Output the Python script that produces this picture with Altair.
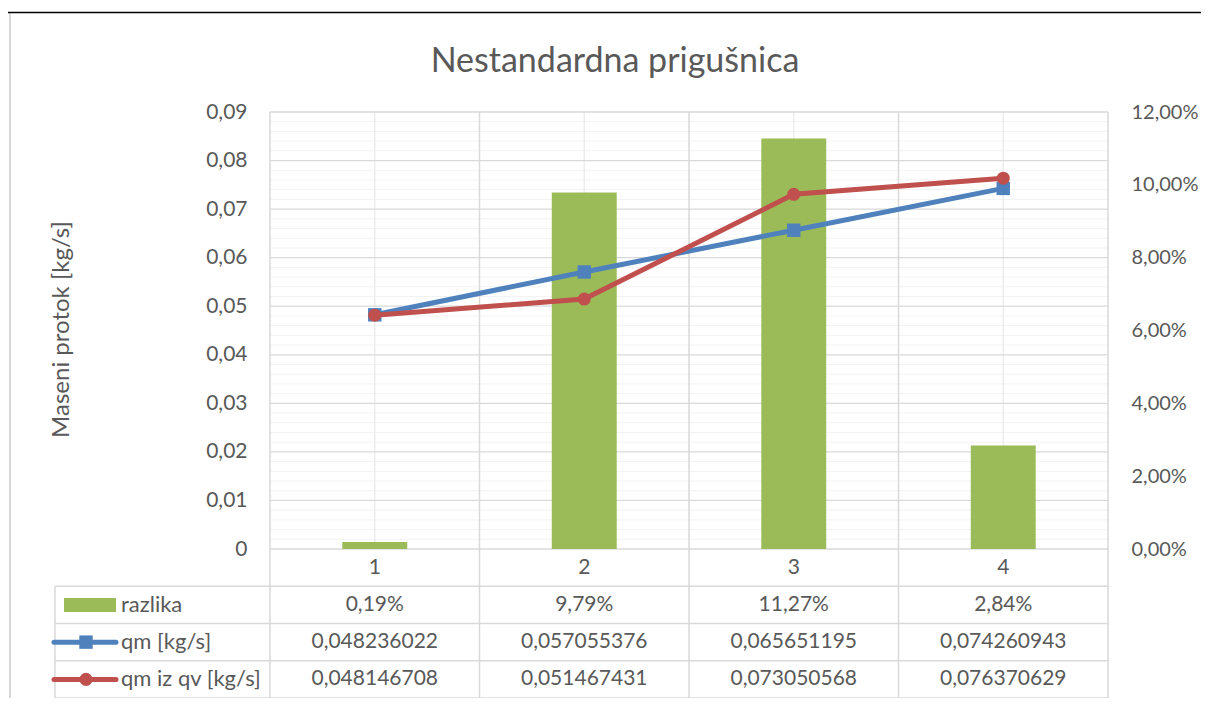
import altair as alt
import pandas as pd

# ---------------- data ----------------
categories = ["1", "2", "3", "4"]
razlika_pct = [0.19, 9.79, 11.27, 2.84]
qm = [0.048236022, 0.057055376, 0.065651195, 0.074260943]
qm_iz_qv = [0.048146708, 0.051467431, 0.073050568, 0.076370629]

series_keys = ["razlika", "qm", "qmqv"]
series_names = ["razlika", "qm [kg/s]", "qm iz qv [kg/s]"]

left_ticks = [0, 0.01, 0.02, 0.03, 0.04, 0.05, 0.06, 0.07, 0.08, 0.09]
minor_ticks = [0.002, 0.004, 0.006, 0.008, 0.012, 0.014, 0.016, 0.018,
               0.022, 0.024, 0.026, 0.028, 0.032, 0.034, 0.036, 0.038,
               0.042, 0.044, 0.046, 0.048, 0.052, 0.054, 0.056, 0.058,
               0.062, 0.064, 0.066, 0.068, 0.072, 0.074, 0.076, 0.078,
               0.082, 0.084, 0.086, 0.088]
right_ticks = [0, 0.02, 0.04, 0.06, 0.08, 0.10, 0.12]
table_rows = ["cat", "razlika", "qm", "qmqv"]

title_text = "Nestandardna prigušnica"
y_title = "Maseni protok [kg/s]"

# ---------------- style ----------------
GREEN = "#9BBB59"
BLUE = "#4F81BD"
RED = "#C0504D"
TXT = "#595959"
GRID = "#D9D9D9"
MINOR = "#F2F2F2"
FONT = "Lato"
W, H = 838, 437
TABLE_H = 149

df = pd.DataFrame({
    "cat": categories,
    "razlika": [v / 100 for v in razlika_pct],
    "qm": qm,
    "qmqv": qm_iz_qv,
})

cells = []
for i, c in enumerate(categories):
    cells.append({"cat": c, "row": "cat", "label": c})
    cells.append({"cat": c, "row": "razlika", "label": f"{razlika_pct[i]:.2f}%".replace(".", ",")})
    cells.append({"cat": c, "row": "qm", "label": f"{qm[i]:.9f}".replace(".", ",")})
    cells.append({"cat": c, "row": "qmqv", "label": f"{qm_iz_qv[i]:.9f}".replace(".", ",")})
cells_df = pd.DataFrame(cells)
legend_df = pd.DataFrame({"row": series_keys, "name": series_names})
rows_df = pd.DataFrame({"row": table_rows})
one = pd.DataFrame({"a": [0]})

xscale = alt.Scale(type="band", domain=categories, paddingInner=0, paddingOuter=0)
yleft = alt.Scale(domain=[0, 0.09], nice=False, zero=True)
yright = alt.Scale(domain=[0, 0.12], nice=False, zero=True)
rowscale = alt.Scale(type="band", domain=table_rows, range=[H, H + TABLE_H],
                     paddingInner=0, paddingOuter=0)

left_axis = alt.Axis(values=left_ticks, title=None, grid=False, ticks=False, domain=False,
                     labelExpr="datum.value == 0 ? '0' : replace(format(datum.value, '.2f'), '.', ',')",
                     labelPadding=23, labelFont=FONT, labelFontSize=21, labelColor=TXT)
right_axis = alt.Axis(orient="right", values=right_ticks, title=None, grid=False, ticks=False,
                      domain=False,
                      labelExpr="replace(format(datum.value, '.2%'), '.', ',')",
                      labelPadding=23, labelFont=FONT, labelFontSize=20, labelColor=TXT)

# ---------------- grid group (left scale, carries left axis) ----------------
minor_grid = alt.Chart(pd.DataFrame({"v": minor_ticks})).mark_rule(color=MINOR, strokeWidth=1).encode(
    y=alt.Y("v:Q", scale=yleft, axis=left_axis))
center_lines = alt.Chart(df).mark_rule(color="#EDEDED", strokeWidth=1.5).encode(
    x=alt.X("cat:N", scale=xscale, axis=None),
    y=alt.value(0), y2=alt.value(H))
major_grid = alt.Chart(pd.DataFrame({"v": left_ticks})).mark_rule(color=GRID, strokeWidth=1.3).encode(
    y=alt.Y("v:Q", scale=yleft, axis=left_axis))
bound_lines = alt.Chart(df).mark_rule(color=GRID, strokeWidth=1.5).encode(
    x=alt.X("cat:N", scale=xscale, axis=None, bandPosition=0),
    y=alt.value(0), y2=alt.value(H + TABLE_H))
last_bound = alt.Chart(df).transform_filter("datum.cat == '4'").mark_rule(color=GRID, strokeWidth=1.5).encode(
    x=alt.X("cat:N", scale=xscale, axis=None, bandPosition=1),
    y=alt.value(0), y2=alt.value(H + TABLE_H))
grid_group = alt.layer(minor_grid, center_lines, major_grid, bound_lines, last_bound)

# ---------------- bars (right scale) ----------------
bars = alt.Chart(df).mark_bar(color=GREEN, width={"band": 0.31}).encode(
    x=alt.X("cat:N", scale=xscale, axis=None),
    y=alt.Y("razlika:Q", scale=yright, axis=right_axis))

# ---------------- lines (left scale) ----------------
qm_line = alt.Chart(df).mark_line(color=BLUE, strokeWidth=5).encode(
    x=alt.X("cat:N", scale=xscale, axis=None),
    y=alt.Y("qm:Q", scale=yleft, axis=None))
qm_pts = alt.Chart(df).mark_point(shape="square", filled=True, color=BLUE, size=180, opacity=1).encode(
    x=alt.X("cat:N", scale=xscale, axis=None),
    y=alt.Y("qm:Q", scale=yleft, axis=None))
qv_line = alt.Chart(df).mark_line(color=RED, strokeWidth=5).encode(
    x=alt.X("cat:N", scale=xscale, axis=None),
    y=alt.Y("qmqv:Q", scale=yleft, axis=None))
qv_pts = alt.Chart(df).mark_point(shape="circle", filled=True, color=RED, size=170, opacity=1).encode(
    x=alt.X("cat:N", scale=xscale, axis=None),
    y=alt.Y("qmqv:Q", scale=yleft, axis=None))
line_group = alt.layer(qm_line, qm_pts, qv_line, qv_pts)

# ---------------- data table (row scale) ----------------
hlines = alt.Chart(rows_df).transform_filter("datum.row != 'cat'").mark_rule(color=GRID, strokeWidth=1.5).encode(
    y=alt.Y("row:N", scale=rowscale, axis=None, bandPosition=0),
    x=alt.value(-215), x2=alt.value(W))
hline_last = alt.Chart(rows_df).transform_filter("datum.row == 'qmqv'").mark_rule(color=GRID, strokeWidth=1.5).encode(
    y=alt.Y("row:N", scale=rowscale, axis=None, bandPosition=1),
    x=alt.value(-215), x2=alt.value(W))
cell_text = alt.Chart(cells_df).mark_text(font=FONT, fontSize=21, color=TXT, baseline="middle").encode(
    x=alt.X("cat:N", scale=xscale, axis=None),
    y=alt.Y("row:N", scale=rowscale, axis=None),
    text="label:N")
legend_text = alt.Chart(legend_df).mark_text(font=FONT, fontSize=22, color=TXT, align="left",
                                             baseline="middle").encode(
    x=alt.value(-149),
    y=alt.Y("row:N", scale=rowscale, axis=None),
    text="name:N")
sw_bar = alt.Chart(legend_df).transform_filter("datum.row == 'razlika'").mark_rule(
    color=GREEN, strokeWidth=14, strokeCap="butt").encode(
    x=alt.value(-206), x2=alt.value(-154),
    y=alt.Y("row:N", scale=rowscale, axis=None))
sw_qm_line = alt.Chart(legend_df).transform_filter("datum.row == 'qm'").mark_rule(
    color=BLUE, strokeWidth=5, strokeCap="round").encode(
    x=alt.value(-216), x2=alt.value(-154),
    y=alt.Y("row:N", scale=rowscale, axis=None))
sw_qm_pt = alt.Chart(legend_df).transform_filter("datum.row == 'qm'").mark_point(
    shape="square", filled=True, color=BLUE, size=180, opacity=1).encode(
    x=alt.value(-184),
    y=alt.Y("row:N", scale=rowscale, axis=None))
sw_qv_line = alt.Chart(legend_df).transform_filter("datum.row == 'qmqv'").mark_rule(
    color=RED, strokeWidth=5, strokeCap="round").encode(
    x=alt.value(-216), x2=alt.value(-154),
    y=alt.Y("row:N", scale=rowscale, axis=None))
sw_qv_pt = alt.Chart(legend_df).transform_filter("datum.row == 'qmqv'").mark_point(
    shape="circle", filled=True, color=RED, size=170, opacity=1).encode(
    x=alt.value(-184),
    y=alt.Y("row:N", scale=rowscale, axis=None))
left_col = alt.Chart(one).mark_rule(color=GRID, strokeWidth=1.5).encode(
    x=alt.value(-215), y=alt.value(H + TABLE_H / 4), y2=alt.value(H + TABLE_H))
table_group = alt.layer(hlines, hline_last, left_col, cell_text, legend_text,
                        sw_bar, sw_qm_line, sw_qm_pt, sw_qv_line, sw_qv_pt)

# ---------------- titles & frame ----------------
title = alt.Chart(one).mark_text(text=title_text, font=FONT, fontSize=34, color=TXT,
                                 align="center", baseline="alphabetic").encode(
    x=alt.value(345), y=alt.value(-40))
ytitle = alt.Chart(one).mark_text(text=y_title, font=FONT, fontSize=24, color=TXT, angle=270,
                                  align="center", baseline="middle").encode(
    x=alt.value(-208), y=alt.value(H / 2 - 1))
frame_left = alt.Chart(one).mark_rule(color="#D9D9D9", strokeWidth=2).encode(
    x=alt.value(-260), y=alt.value(-99), y2=alt.value(H + TABLE_H + 20))
header_line = alt.Chart(one).mark_rule(color="black", strokeWidth=1.5).encode(
    x=alt.value(-264), x2=alt.value(940), y=alt.value(-99.5))

chart = alt.layer(
    frame_left, header_line, grid_group, bars, line_group, table_group, title, ytitle
).resolve_scale(y="independent").properties(
    width=W, height=H,
    autosize=alt.AutoSizeParams(type="none"),
    padding={"left": 262, "top": 104, "right": 93, "bottom": 149},
).configure_view(strokeWidth=0)

chart.save("out.html", embed_options={"renderer": "svg", "actions": False})
